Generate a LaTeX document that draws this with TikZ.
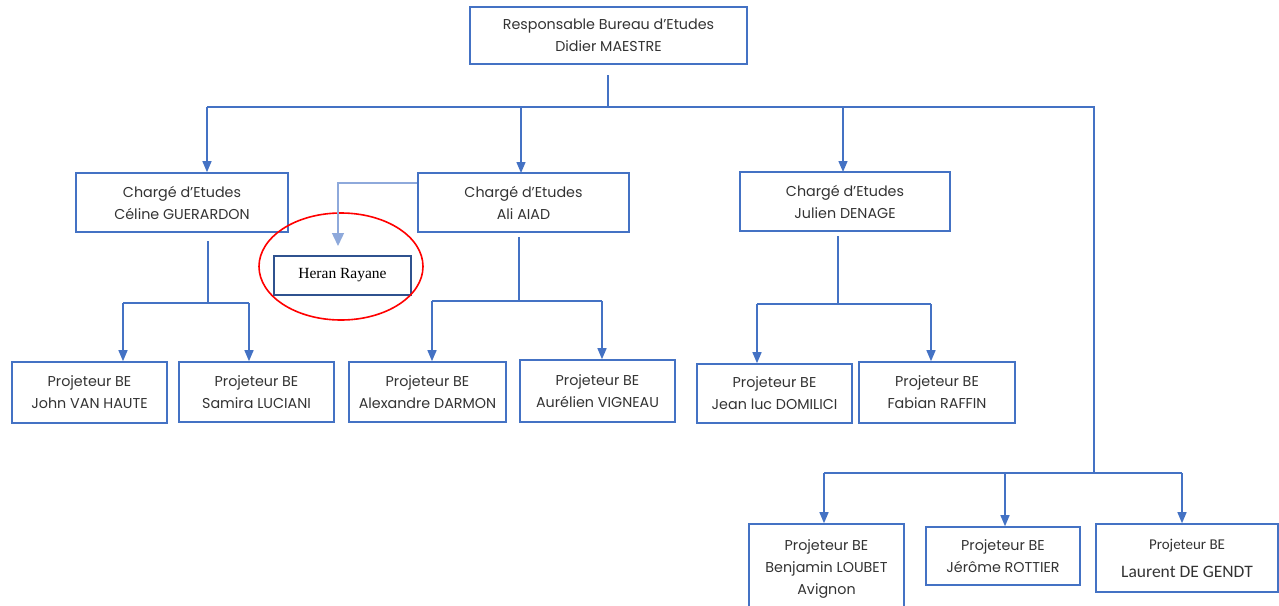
\documentclass[tikz,border=0pt]{standalone}
\usepackage{fontspec}
\setmainfont{Poppins}
\newfontfamily\calib{Carlito}
\newfontfamily\tnr{Liberation Serif}
\usetikzlibrary{arrows.meta,calc}
\definecolor{lineblue}{HTML}{4472C4}
\definecolor{lightblue}{HTML}{8EA9DB}
\definecolor{darkblue}{HTML}{2F528F}
\definecolor{txt}{HTML}{333333}
\tikzset{
  box/.style={draw=lineblue, line width=1.6pt, rectangle, inner sep=0pt, align=center,
     text=txt, font=\fontsize{14.3}{22}\selectfont},
  conn/.style={draw=lineblue, line width=1.4pt},
  arr/.style={conn, -{Triangle[length=11pt,width=9pt]}},
}
\begin{document}
\begin{tikzpicture}[x=1pt,y=-1pt]
\useasboundingbox (0,0) rectangle (1279,605);
\clip (0,0) rectangle (1279,605);
% nodes
\node[box, minimum width=277, minimum height=57] (top) at (608.5,35.5) {Responsable Bureau d'Etudes\\Didier MAESTRE};
\node[box, minimum width=212, minimum height=59] (cel) at (182,202.5) {Chargé d'Etudes\\Céline GUERARDON};
\node[box, minimum width=211, minimum height=59] (ali) at (523.5,202.5) {Chargé d'Etudes\\Ali AIAD};
\node[box, minimum width=210, minimum height=59] (jul) at (845,201.5) {Chargé d'Etudes\\Julien DENAGE};
\node[box, draw=darkblue, line width=2pt, minimum width=137, minimum height=39, font=\tnr\fontsize{15.5}{17}\selectfont, text=black] (her) at (342.5,275.5) {Heran Rayane};
\node[box, minimum width=155, minimum height=61] (john) at (89.5,392.5) {Projeteur BE\\John VAN HAUTE};
\node[box, minimum width=155, minimum height=60] (sam) at (256.5,392) {Projeteur BE\\Samira LUCIANI};
\node[box, minimum width=157, minimum height=60] (alex) at (427.5,392) {Projeteur BE\\Alexandre DARMON};
\node[box, minimum width=155, minimum height=62] (aur) at (597.5,391) {Projeteur BE\\Aurélien VIGNEAU};
\node[box, minimum width=155, minimum height=59] (jean) at (774.5,393.5) {Projeteur BE\\Jean luc DOMILICI};
\node[box, minimum width=156, minimum height=61] (fab) at (937,392.5) {Projeteur BE\\Fabian RAFFIN};
\node[box, minimum width=155, minimum height=90] (ben) at (826.5,569) {Projeteur BE\\Benjamin LOUBET\\Avignon};
\node[box, minimum width=154, minimum height=58] (jer) at (1003,556) {Projeteur BE\\Jérôme ROTTIER};
\node[box, minimum width=182, minimum height=68, font=\calib\fontsize{15}{28}\selectfont] (lau) at (1187,558) {Projeteur BE\\{\fontsize{17.5}{28}\selectfont Laurent DE GENDT}};
% red ellipse
\draw[red, line width=1.6pt] (341,266.5) ellipse [x radius=82, y radius=53.5];
% top level connectors
\coordinate (ts) at (608,75);
\coordinate (tj) at (608,107);
\coordinate (hl) at (207,107);
\coordinate (hr) at (1094,107);
\coordinate (bj) at (1094,473);
\draw[conn] (ts) -- (tj);
\draw[conn] (hl) -- (hr) -- (bj);
\draw[arr] (hl) -- (hl |- cel.north);
\draw[arr] (521,107) -- (521,173);
\draw[arr] (843,107) -- (843,172);
% Celine
\coordinate (cs) at (208,241);
\coordinate (cj) at (208,303);
\coordinate (cl) at (123,303);
\coordinate (cr) at (249,303);
\draw[conn] (cs) -- (cj);
\draw[conn] (cl) -- (cr);
\draw[arr] (cl) -- (cl |- john.north);
\draw[arr] (cr) -- (cr |- sam.north);
% Ali
\coordinate (as) at (519,237);
\coordinate (aj) at (519,301);
\coordinate (al) at (432,301);
\coordinate (ar) at (602,301);
\draw[conn] (as) -- (aj);
\draw[conn] (al) -- (ar);
\draw[arr] (al) -- (al |- alex.north);
\draw[arr] (ar) -- (ar |- aur.north);
% Heran
\coordinate (hc) at (338,183);
\coordinate (ht) at (338,246);
\draw[draw=lightblue, line width=1.4pt, -{Triangle[length=13pt,width=12pt]}] (ali.west |- hc) -- (hc) -- (ht);
% Julien
\coordinate (js) at (838,236);
\coordinate (jj) at (838,304);
\coordinate (jl) at (757,304);
\coordinate (jr) at (931,304);
\draw[conn] (js) -- (jj);
\draw[conn] (jl) -- (jr);
\draw[arr] (jl) -- (jl |- jean.north);
\draw[arr] (jr) -- (jr |- fab.north);
% Bottom group
\coordinate (bl) at (824,473);
\coordinate (bm) at (1005,473);
\coordinate (br) at (1182,473);
\draw[conn] (bl) -- (br);
\draw[arr] (bl) -- (bl |- ben.north);
\draw[arr] (bm) -- (bm |- jer.north);
\draw[arr] (br) -- (br |- lau.north);
\end{tikzpicture}
\end{document}
